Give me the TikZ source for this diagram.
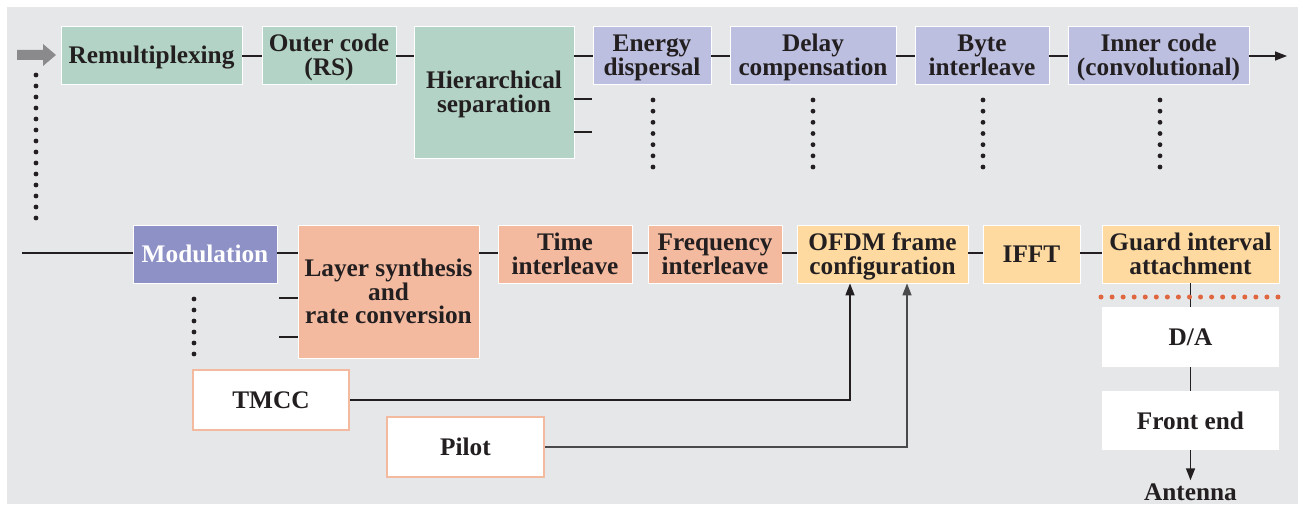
\documentclass[tikz,border=0pt]{standalone}
\usepackage{fontspec}
\setmainfont{Liberation Serif}
\usetikzlibrary{arrows.meta,calc}
\definecolor{bg}{HTML}{E6E7E9}
\definecolor{ink}{HTML}{231F20}
\definecolor{mint}{HTML}{B3D3C6}
\definecolor{lav}{HTML}{BCBFE0}
\definecolor{modc}{HTML}{8E91C6}
\definecolor{salmon}{HTML}{F3BAA0}
\definecolor{peach}{HTML}{FEDAA1}
\definecolor{reddot}{HTML}{E0663F}
\definecolor{greyarrow}{HTML}{8A8A8C}
\definecolor{pilotline}{HTML}{4A4A4C}
\begin{document}
\begin{tikzpicture}[x=1pt,y=-1pt,
  font=\fontsize{25.3}{23.5}\selectfont\bfseries,
  capcentre/.style={text height=17pt, text depth=0pt},
  twoline/.style={text height=40.5pt},
  threeline/.style={text height=64pt},
  blk/.style={draw=white, line width=0.8pt, inner sep=0pt, align=center,
              text=ink, minimum height=58pt, capcentre},
  srcbox/.style={fill=white, draw=salmon, line width=2.5pt, inner sep=0pt,
              align=center, text=ink, minimum height=58pt, capcentre},
  outbox/.style={fill=white, draw=none, inner sep=0pt, align=center,
              text=ink, capcentre},
  wire/.style={draw=ink, line width=1.5pt},
  arr/.style={wire, -{Triangle[length=12pt,width=9pt]}}]
\useasboundingbox (0,0) rectangle (1303,505);
\fill[white] (0,0) rectangle (1303,505);
\fill[bg] (7,7) rectangle (1298,504);

% input arrow
\fill[greyarrow] (17,50) -- (43,50) -- (43,44) -- (56,55) -- (43,66)
  -- (43,60) -- (17,60) -- cycle;

% outer coding chain
\node[blk, fill=mint, minimum width=181pt] (remux) at (151.5,55) {Remultiplexing};
\node[blk, twoline, fill=mint, minimum width=134pt] (outer) at (329,55) {Outer code\\(RS)};
\node[blk, twoline, fill=mint, minimum width=160pt, minimum height=132pt] (hier) at (494,92) {Hierarchical\\separation};
\node[blk, twoline, fill=lav, minimum width=118pt] (energy) at (652,55) {Energy\\dispersal};
\node[blk, twoline, fill=lav, minimum width=166pt] (delay) at (813,55) {Delay\\compensation};
\node[blk, twoline, fill=lav, minimum width=134pt] (byte) at (982,55) {Byte\\interleave};
\node[blk, twoline, fill=lav, minimum width=181pt] (inner) at (1158.5,55) {Inner code\\(convolutional)};
\coordinate (outexit) at (1287,56);
\coordinate (hs1) at (592,99);
\coordinate (hs2) at (592,132);

\draw[wire] (outexit -| remux.east) -- (outexit -| outer.west);
\draw[wire] (outexit -| outer.east) -- (outexit -| hier.west);
\draw[wire] (outexit -| hier.east) -- (outexit -| energy.west);
\draw[wire] (outexit -| energy.east) -- (outexit -| delay.west);
\draw[wire] (outexit -| delay.east) -- (outexit -| byte.west);
\draw[wire] (outexit -| byte.east) -- (outexit -| inner.west);
\draw[arr] (outexit -| inner.east) -- (outexit);
\draw[wire] (hs1 -| hier.east) -- (hs1);
\draw[wire] (hs2 -| hier.east) -- (hs2);

% modulation and framing chain
\node[blk, fill=modc, text=white, minimum width=144pt] (mod) at (205,254) {Modulation};
\node[blk, threeline, fill=salmon, minimum width=181pt, minimum height=133pt] (layer) at (388.5,291.5) {Layer synthesis\\and\\rate conversion};
\node[blk, twoline, fill=salmon, minimum width=134pt] (time) at (565,254) {Time\\interleave};
\node[blk, twoline, fill=salmon, minimum width=134pt] (freq) at (715,254) {Frequency\\interleave};
\node[blk, twoline, fill=peach, minimum width=171pt] (ofdm) at (882.5,254) {OFDM frame\\configuration};
\node[blk, fill=peach, minimum width=97pt] (ifft) at (1031.5,254) {IFFT};
\node[blk, twoline, fill=peach, minimum width=177pt] (guard) at (1190.5,254) {Guard interval\\attachment};
\node[outbox, minimum width=177pt, minimum height=60pt] (da) at (1190.5,337) {D/A};
\node[outbox, minimum width=177pt, minimum height=59pt] (front) at (1190.5,420.5) {Front end};
\node[text=ink, inner sep=3pt, capcentre] (antenna) at (1190.5,492) {Antenna};
\node[srcbox, minimum width=156pt, minimum height=60pt] (tmcc) at (271,400) {TMCC};
\node[srcbox, minimum width=157pt, minimum height=60pt] (pilot) at (465.5,447) {Pilot};
\coordinate (rowin) at (22,253);
\coordinate (ls1) at (279,298);
\coordinate (ls2) at (279,337);

\draw[wire] (rowin) -- (rowin -| mod.west);
\draw[wire] (rowin -| mod.east) -- (rowin -| layer.west);
\draw[wire] (ls1) -- (ls1 -| layer.west);
\draw[wire] (ls2) -- (ls2 -| layer.west);
\draw[wire] (rowin -| layer.east) -- (rowin -| time.west);
\draw[wire] (rowin -| time.east) -- (rowin -| freq.west);
\draw[wire] (rowin -| freq.east) -- (rowin -| ofdm.west);
\draw[wire] (rowin -| ofdm.east) -- (rowin -| ifft.west);
\draw[wire] (rowin -| ifft.east) -- (rowin -| guard.west);
\draw[wire] (guard) -- (da);
\draw[wire] (da) -- (front);
\draw[arr] (front) -- (antenna.north);
\draw[arr] (tmcc.east) -| ([xshift=-32.5pt]ofdm.south);
\draw[arr, color=pilotline] (pilot.east) -| ([xshift=24.5pt]ofdm.south);

% dotted continuation marks
\foreach \i in {0,...,13} \fill[ink] (36,75+11*\i) circle (2.4pt);
\foreach \x in {653,813,983,1160}
  \foreach \i in {0,...,6} \fill[ink] (\x,100+11.17*\i) circle (2.4pt);
\foreach \i in {0,...,5} \fill[ink] (194,299+11*\i) circle (2.4pt);
\foreach \i in {0,...,16} \fill[reddot] (1101+11.06*\i,297) circle (2.5pt);
\end{tikzpicture}
\end{document}
